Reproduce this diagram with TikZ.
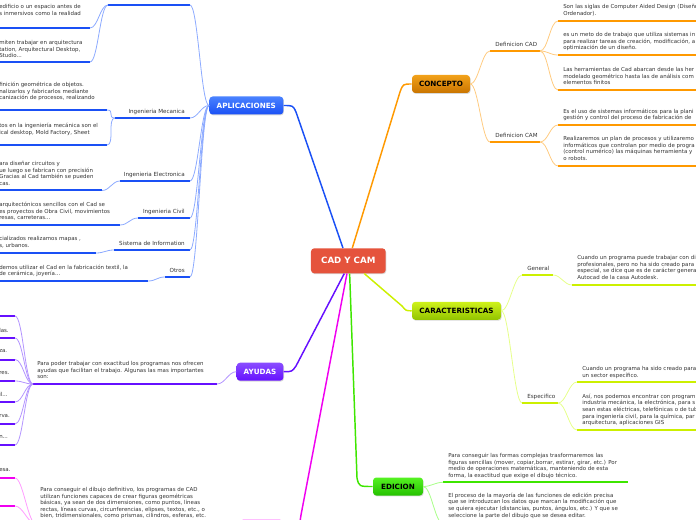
\documentclass[tikz,border=0pt]{standalone}
\usepackage{fontspec}
\setmainfont{DejaVu Sans}
\usetikzlibrary{shadows}

\definecolor{rootred}{HTML}{E5533C}
\definecolor{aplhi}{HTML}{4A82FF}
\definecolor{aplblue}{HTML}{1A50F5}
\definecolor{apllite}{HTML}{8CAAFF}
\definecolor{conhi}{HTML}{F2A21A}
\definecolor{conlo}{HTML}{C97400}
\definecolor{conline}{HTML}{FF9900}
\definecolor{conlite}{HTML}{FFCB80}
\definecolor{carhi}{HTML}{CFF21A}
\definecolor{carlo}{HTML}{92C400}
\definecolor{carline}{HTML}{CCF000}
\definecolor{carlite}{HTML}{E6FF8A}
\definecolor{edihi}{HTML}{55F222}
\definecolor{edilo}{HTML}{25C000}
\definecolor{ediline}{HTML}{3EE600}
\definecolor{edilite}{HTML}{A8FF88}
\definecolor{ayuhi}{HTML}{8A4DFF}
\definecolor{ayupurple}{HTML}{6610FF}
\definecolor{ayulite}{HTML}{B394FF}
\definecolor{dibhi}{HTML}{FF44FF}
\definecolor{dibpink}{HTML}{F000F0}
\definecolor{diblite}{HTML}{FF9CFF}
\definecolor{txtgray}{HTML}{333333}

\tikzset{
  topic/.style={rounded corners=2.5pt, inner sep=0pt, minimum height=13.5pt,
    font=\fontsize{5.4}{6}\selectfont\bfseries,
    drop shadow={opacity=0.3, shadow xshift=0.5pt, shadow yshift=-0.7pt}},
  lbl/.style={inner sep=0pt, font=\fontsize{4.2}{5}\selectfont, text=txtgray},
  note/.style={inner sep=0pt, anchor=north west, align=left,
    font=\fontsize{4.1}{4.95}\selectfont, text=txtgray},
  ul/.style={line width=1.5pt},
  twig/.style={line width=0.6pt},
  tol/.style={out=180, in=0, distance=6pt},
  tor/.style={out=0, in=180, distance=6pt}
}

\begin{document}
\begin{tikzpicture}[x=0.75pt,y=0.75pt,yscale=-1,xscale=1]
\useasboundingbox (0,0) rectangle (696,520);

% Root and main topics
\node[topic, fill=rootred, text=white, minimum width=56pt, minimum height=18.75pt, font=\fontsize{6.5}{7}\selectfont\bfseries] (cad) at (348.3,260.8) {CAD Y CAM};
\node[topic, top color=aplhi, bottom color=aplblue, text=white, minimum width=55.5pt] (apl) at (246.3,105.5) {APLICACIONES};
\node[topic, top color=conhi, bottom color=conlo, minimum width=43.5pt] (con) at (441,84) {CONCEPTO};
\node[topic, top color=carhi, bottom color=carlo, minimum width=66.75pt] (car) at (456.5,310.8) {CARACTERISTICAS};
\node[topic, top color=edihi, bottom color=edilo, minimum width=37.5pt] (edi) at (398,486.5) {EDICION};
\node[topic, top color=ayuhi, bottom color=ayupurple, text=white, minimum width=35pt] (ayu) at (260,371.7) {AYUDAS};
\node[topic, top color=dibhi, bottom color=dibpink, minimum width=32pt] (dib) at (261.5,528.5) {};

%Curve Lines from the root
\draw[aplblue, line width=1.1pt] ([xshift=-4pt]cad.north) -- (296,112) .. controls (293,105.5) .. (apl.east);
\draw[conline, line width=1.1pt] ([xshift=3pt]cad.north) -- (400,92) .. controls (403,84) .. (con.west);
\draw[carline, line width=1.1pt] ([xshift=12pt]cad.south) -- (402,306) .. controls (406,310.8) .. (car.west);
\draw[ayupurple, line width=1.1pt] ([xshift=-3pt]cad.south) -- (296,366) .. controls (292,371.7) .. (ayu.east);
\draw[dibpink, line width=1.1pt] ([xshift=-1pt]cad.south) -- (301,515) .. controls (299,528.5) .. (dib.east);
\draw[ediline, line width=1.1pt] ([xshift=1pt]cad.south) -- (357,478) .. controls (359,486.5) .. (edi.west);

%APLICACIONES branch
\draw[ul, aplblue] (108,5) coordinate (ap0-l) -- (190,5) coordinate (ap0-r);
\draw[ul, aplblue] (115,118) coordinate (mec-l) -- (190,118) coordinate (mec-r);
\node[lbl, anchor=base east] (mec) at (185,113.5) {Ingenieria Mecanica};
\draw[ul, aplblue] (120,181) coordinate (ele-l) -- (190,181) coordinate (ele-r);
\node[lbl, anchor=base east] (ele) at (185,176.5) {Ingenieria Electronica};
\draw[ul, aplblue] (138,218) coordinate (civ-l) -- (190,218) coordinate (civ-r);
\node[lbl, anchor=base east] (civ) at (185,213.5) {Ingenieria Civil};
\draw[ul, aplblue] (114,250) coordinate (sis-l) -- (190,250) coordinate (sis-r);
\node[lbl, anchor=base east] (sis) at (185,245.5) {Sistema de Information};
\draw[ul, aplblue] (165,277) coordinate (otr-l) -- (190,277) coordinate (otr-r);
\node[lbl, anchor=base east] (otr) at (185,272.5) {Otros};
\draw[twig, apllite] (apl.west) to[tol] (ap0-r);
\draw[twig, apllite] (apl.west) to[tol] (mec-r);
\draw[twig, apllite] (apl.west) to[tol] (ele-r);
\draw[twig, apllite] (apl.west) to[tol] (civ-r);
\draw[twig, apllite] (apl.west) to[tol] (sis-r);
\draw[twig, apllite] (apl.west) to[tol] (otr-r);

% Text Node
\node[note] (a1) at (-1,4) {edificio o un espacio antes de\\s inmersivos como la realidad};
\draw[ul, aplblue] (-2,28) -- (90,28) coordinate (a1-r);
\node[note] (a2) at (-1,40) {miten trabajar en arquitectura\\tation, Arquitectural Desktop,\\Studio...};
\draw[ul, aplblue] (-2,62) -- (90,62) coordinate (a2-r);
\node[note] (m1) at (-1,82) {finición geométrica de objetos.\\nalizarlos y fabricarlos mediante\\canización de procesos, realizando};
\draw[ul, aplblue] (-2,110) -- (107,110) coordinate (m1-r);
\node[note] (m2) at (-1,123) {tos en la ingeniería mecánica son el\\ical desktop, Mold Factory, Sheet};
\draw[ul, aplblue] (-2,145) -- (107,145) coordinate (m2-r);
\node[note] (e1) at (-1,161) {ara diseñar circuitos y\\ue luego se fabrican con precisión\\ Gracias al Cad también se pueden\\cas.};
\draw[ul, aplblue] (-2,190.5) -- (102,190.5) coordinate (e1-r);
\node[note] (c1) at (-1,202) {arquitectónicos sencillos con el Cad se\\es proyectos de Obra Civil, movimientos\\resas, carreteras...};
\draw[ul, aplblue] (-2,225) -- (120,225) coordinate (c1-r);
\node[note] (s1) at (-1,236) {cializados realizamos mapas ,\\s, urbanos.};
\draw[ul, aplblue] (-2,253) -- (96,253) coordinate (s1-r);
\node[note] (o1) at (-1,264.5) {demos utilizar el Cad en la fabricación textil, la\\de cerámica, joyería...};
\draw[ul, aplblue] (-2,281) -- (148,281) coordinate (o1-r);
\draw[twig, apllite] (ap0-l) to[tol] (a1-r);
\draw[twig, apllite] (ap0-l) to[tol] (a2-r);
\draw[twig, apllite] (mec-l) to[tol] (m1-r);
\draw[twig, apllite] (mec-l) to[tol] (m2-r);
\draw[twig, apllite] (ele-l) to[tol] (e1-r);
\draw[twig, apllite] (civ-l) to[tol] (c1-r);
\draw[twig, apllite] (sis-l) to[tol] (s1-r);
\draw[twig, apllite] (otr-l) to[tol] (o1-r);

%AYUDAS branch
\node[note] (ayt) at (37,361) {Para poder trabajar con exactitud los programas nos ofrecen\\ayudas que facilitan el trabajo. Algunas las mas importantes\\son:};
\draw[ul, ayupurple] (33,384) coordinate (ay-l) -- (217,384) coordinate (ay-r);
\draw[twig, ayulite] (ayu.west) to[tol] (ay-r);
\draw[ul, ayupurple] (-2,316) -- (15,316) coordinate (y1-r);
\node[note] (y2) at (-1,328) {las.};
\draw[ul, ayupurple] (-2,338) -- (15,338) coordinate (y2-r);
\node[note] (y3) at (-1,349) {za.};
\draw[ul, ayupurple] (-2,359.5) -- (15,359.5) coordinate (y3-r);
\node[note] (y4) at (-1,371) {res.};
\draw[ul, ayupurple] (-2,381) -- (15,381) coordinate (y4-r);
\node[note] (y5) at (-1,392) {il...};
\draw[ul, ayupurple] (-2,402) -- (15,402) coordinate (y5-r);
\node[note] (y6) at (-1,414) {rva.};
\draw[ul, ayupurple] (-2,424) -- (15,424) coordinate (y6-r);
\node[note] (y7) at (-1,435) {n...};
\draw[ul, ayupurple] (-2,445) -- (15,445) coordinate (y7-r);
\draw[twig, ayulite] (ay-l) to[tol] (y1-r);
\draw[twig, ayulite] (ay-l) to[tol] (y2-r);
\draw[twig, ayulite] (ay-l) to[tol] (y3-r);
\draw[twig, ayulite] (ay-l) to[tol] (y4-r);
\draw[twig, ayulite] (ay-l) to[tol] (y5-r);
\draw[twig, ayulite] (ay-l) to[tol] (y6-r);
\draw[twig, ayulite] (ay-l) to[tol] (y7-r);

%Dibujo branch (pink)
\node[note] (dbt) at (40,487) {Para conseguir el dibujo definitivo, los programas de CAD\\utilizan funciones capaces de crear figuras geométricas\\básicas, ya sean de dos dimensiones, como puntos, líneas\\rectas, líneas curvas, circunferencias, elipses, textos, etc., o\\bien, tridimensionales, como prismas, cilindros, esferas, etc.};
\draw[ul, dibpink] (36,524) coordinate (db-l) -- (222,524) coordinate (db-r);
\draw[twig, diblite] (dib.west) to[tol] (db-r);
\node[note] (z1) at (-1,467.7) {esa.};
\draw[ul, dibpink] (-2,478) -- (15,478) coordinate (z1-r);
\draw[ul, dibpink] (-2,506) -- (15,506) coordinate (z2-r);
\draw[twig, diblite] (db-l) to[tol] (z1-r);
\draw[twig, diblite] (db-l) to[tol] (z2-r);

%CONCEPTO branch
\draw[ul, conline] (490,51) coordinate (dcad-l) -- (540,51) coordinate (dcad-r);
\node[lbl, anchor=base west] (dcad) at (495,46.5) {Definicion CAD};
\draw[ul, conline] (490,142) coordinate (dcam-l) -- (540,142) coordinate (dcam-r);
\node[lbl, anchor=base west] (dcam) at (495,137.5) {Definicion CAM};
\draw[twig, conlite] (con.east) to[tor] (dcad-l);
\draw[twig, conlite] (con.east) to[tor] (dcam-l);
\node[note] (r1) at (563,4) {Son las siglas de Computer Aided Design (Diseño\\Ordenador).};
\draw[ul, conline] (558,21) coordinate (r1-l) -- (700,21);
\node[note] (r2) at (563,32) {es un meto do de trabajo que utiliza sistemas in\\para realizar tareas de creación, modificación, a\\optimización de un diseño.};
\draw[ul, conline] (558,55) coordinate (r2-l) -- (700,55);
\node[note] (r3) at (563,67) {Las herramientas de Cad abarcan desde las her\\modelado geométrico hasta las de análisis com\\elementos finitos};
\draw[ul, conline] (558,90) coordinate (r3-l) -- (700,90);
\node[note] (r4) at (563,108.7) {Es el uso de sistemas informáticos para la plani\\gestión y control del proceso de fabricación de};
\draw[ul, conline] (558,125) coordinate (r4-l) -- (700,125);
\node[note] (r5) at (563,136.3) {Realizaremos un plan de procesos y utilizaremo\\informáticos que controlan por medio de progra\\(control numérico) las máquinas herramienta y\\o robots.};
\draw[ul, conline] (558,166) coordinate (r5-l) -- (700,166);
\draw[twig, conlite] (dcad-r) to[tor] (r1-l);
\draw[twig, conlite] (dcad-r) to[tor] (r2-l);
\draw[twig, conlite] (dcad-r) to[tor] (r3-l);
\draw[twig, conlite] (dcam-r) to[tor] (r4-l);
\draw[twig, conlite] (dcam-r) to[tor] (r5-l);

%CARACTERISTICAS branch
\draw[ul, carline] (522,275) coordinate (gen-l) -- (553,275) coordinate (gen-r);
\node[lbl, anchor=base west] (gen) at (527,270.5) {General};
\draw[ul, carline] (522,403) coordinate (esp-l) -- (558,403) coordinate (esp-r);
\node[lbl, anchor=base west] (esp) at (527,398.5) {Especifico};
\draw[twig, carlite] (car.east) to[tor] (gen-l);
\draw[twig, carlite] (car.east) to[tor] (esp-l);
\node[note] (g1) at (577,255.3) {Cuando un programa puede trabajar con di\\profesionales, pero no ha sido creado para\\especial, se dice que es de carácter genera\\Autocad de la casa Autodesk.};
\draw[ul, carline] (572,285) coordinate (g1-l) -- (700,285);
\node[note] (p1) at (582,366.3) {Cuando un programa ha sido creado para\\un sector específico.};
\draw[ul, carline] (577,382) coordinate (p1-l) -- (700,382);
\node[note] (p2) at (582,393.7) {Así, nos podemos encontrar con program\\industria mecánica, la electrónica, para s\\sean estas eléctricas, telefónicas o de tub\\para ingeniería civil, para la química, par\\arquitectura, aplicaciones GIS};
\draw[ul, carline] (577,430) coordinate (p2-l) -- (700,430);
\draw[twig, carlite] (gen-r) to[tor] (g1-l);
\draw[twig, carlite] (esp-r) to[tor] (p1-l);
\draw[twig, carlite] (esp-r) to[tor] (p2-l);

%EDICION branch
\node[note] (d1) at (448,453) {Para conseguir las formas complejas trasformaremos las\\figuras sencillas (mover, copiar,borrar, estirar, girar, etc.) Por\\medio de operaciones matemáticas, manteniendo de esta\\forma, la exactitud que exige el dibujo técnico.};
\draw[ul, ediline] (443,482.3) coordinate (d1-l) -- (628,482.3);
\node[note] (d2) at (448,492.7) {El proceso de la mayoría de las funciones de edición precisa\\que se introduzcan los datos que marcan la modificación que\\se quiera ejecutar (distancias, puntos, ángulos, etc.) Y que se\\seleccione la parte del dibujo que se desea editar.};
\draw[ul, ediline] (443,523.5) coordinate (d2-l) -- (630,523.5);
\draw[twig, edilite] (edi.east) to[tor] (d1-l);
\draw[twig, edilite] (edi.east) to[tor] (d2-l);

\end{tikzpicture}
\end{document}
